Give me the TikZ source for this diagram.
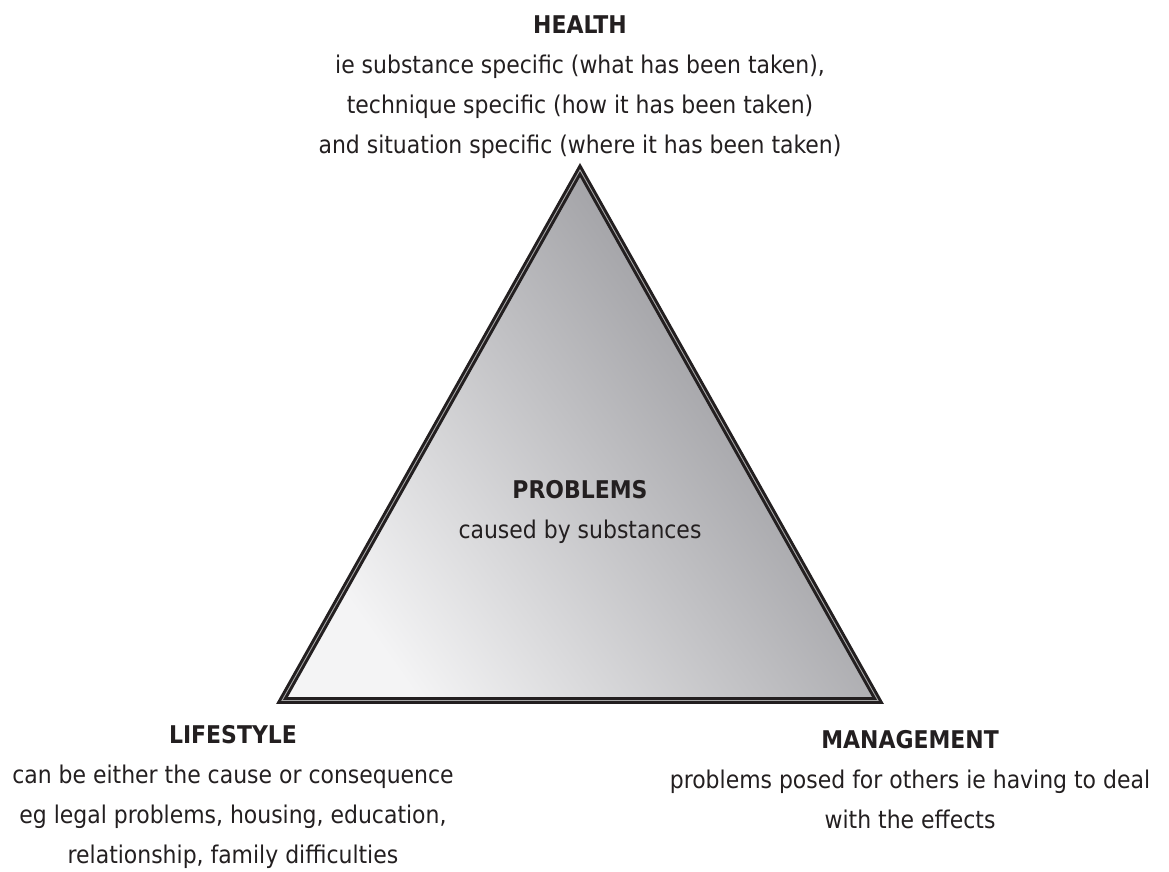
\documentclass[tikz,border=0pt]{standalone}
\usepackage{fontspec}
\setmainfont{DejaVu Sans Condensed}
\usepackage{tikz}

\definecolor{ink}{HTML}{231F20}
\definecolor{triLight}{HTML}{F4F4F5}
\definecolor{triDark}{HTML}{8C8C91}

\begin{document}
\begin{tikzpicture}[x=1pt,y=1pt,font=\fontsize{24.4}{40}\selectfont,text=ink]
	\tikzset{Label/.style={align=center,anchor=base,inner sep=0pt}}
	\useasboundingbox (0,0) rectangle (1169,871);
	% the triangle
	\coordinate (top) at (580,701);
	\coordinate (left) at (282,170.5);
	\coordinate (right) at (878,170.5);
	\shade[top color=triDark,bottom color=triLight,shading angle=-55]
		(top) -- (left) -- (right) -- cycle;
	\draw[line width=3pt,double=gray!70,double distance=0.9pt,line join=miter,draw=ink]
		(top) -- (left) -- (right) -- cycle;
	% labels (base = last line)
	\node[Label] (health) at (580,717) {\textbf{HEALTH}\\
		ie substance specific (what has been taken),\\
		technique specific (how it has been taken)\\
		and situation specific (where it has been taken)};
	\node[Label] (problems) at (580,333) {\textbf{PROBLEMS}\\caused by substances};
	\node[Label] (lifestyle) at (233,8) {\textbf{LIFESTYLE}\\
		can be either the cause or consequence\\
		eg legal problems, housing, education,\\
		relationship, family difficulties};
	\node[Label] (management) at (910,43) {\textbf{MANAGEMENT}\\
		problems posed for others ie having to deal\\
		with the effects};
\end{tikzpicture}
\end{document}
